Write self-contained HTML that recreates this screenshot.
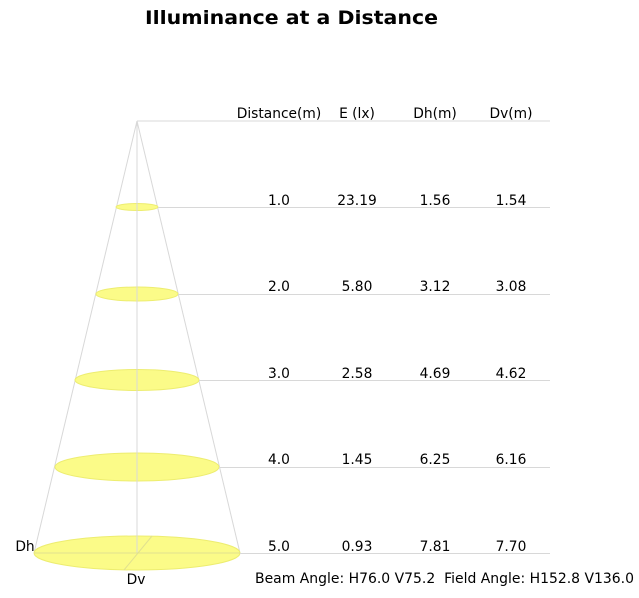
<!DOCTYPE html>
<html><head><meta charset="utf-8"><style>html,body{margin:0;padding:0;background:#fff}svg{display:block}</style></head>
<body>
<svg width="639" height="598" viewBox="0 0 639 598" xmlns="http://www.w3.org/2000/svg" font-family="'DejaVu Sans','Liberation Sans',sans-serif">
<text x="145" y="24" font-size="19" font-weight="bold" textLength="293" lengthAdjust="spacingAndGlyphs" fill="#000">Illuminance at a Distance</text>
<g stroke="#d8d8d8" stroke-width="1" fill="none">
<line x1="137" y1="121" x2="550" y2="121"/>
<line x1="137" y1="121" x2="34" y2="553"/>
<line x1="137" y1="121" x2="240" y2="553"/>
</g>
<g fill="#fbfb88" stroke="#eded70" stroke-width="1">
<ellipse cx="137" cy="207" rx="21" ry="3.5"/>
<ellipse cx="137" cy="294" rx="41" ry="7"/>
<ellipse cx="137" cy="380" rx="62" ry="10.5"/>
<ellipse cx="137" cy="467" rx="82" ry="14"/>
<ellipse cx="137" cy="553" rx="103" ry="17"/>
</g>
<g stroke="#d8d8d8" stroke-width="1" fill="none">
<line x1="137" y1="121" x2="137" y2="553"/>
<line x1="158" y1="207.5" x2="550" y2="207.5"/>
<line x1="178" y1="294.5" x2="550" y2="294.5"/>
<line x1="199" y1="380.5" x2="550" y2="380.5"/>
<line x1="219" y1="467.5" x2="550" y2="467.5"/>
<line x1="240" y1="553.5" x2="550" y2="553.5"/>
<line x1="34" y1="553" x2="240" y2="553" stroke="#e0e090"/>
<line x1="152" y1="536" x2="124" y2="570" stroke="#e0e090"/>
</g>
<g font-size="13.8" fill="#000" text-anchor="middle">
<text x="279" y="118">Distance(m)</text><text x="357" y="118">E (lx)</text><text x="435" y="118">Dh(m)</text><text x="511" y="118">Dv(m)</text>
<text x="279" y="205">1.0</text><text x="357" y="205">23.19</text><text x="435" y="205">1.56</text><text x="511" y="205">1.54</text>
<text x="279" y="291">2.0</text><text x="357" y="291">5.80</text><text x="435" y="291">3.12</text><text x="511" y="291">3.08</text>
<text x="279" y="378">3.0</text><text x="357" y="378">2.58</text><text x="435" y="378">4.69</text><text x="511" y="378">4.62</text>
<text x="279" y="464">4.0</text><text x="357" y="464">1.45</text><text x="435" y="464">6.25</text><text x="511" y="464">6.16</text>
<text x="279" y="551">5.0</text><text x="357" y="551">0.93</text><text x="435" y="551">7.81</text><text x="511" y="551">7.70</text>
<text x="25" y="551">Dh</text><text x="136" y="584">Dv</text>
</g>
<text x="255" y="583" font-size="13.8" xml:space="preserve" textLength="379" lengthAdjust="spacingAndGlyphs" fill="#000">Beam Angle: H76.0 V75.2  Field Angle: H152.8 V136.0</text>
</svg>
</body></html>
